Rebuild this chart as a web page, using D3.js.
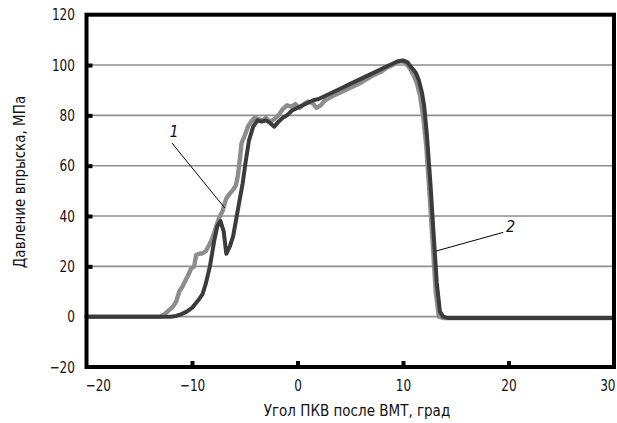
<!DOCTYPE html>
<html>
<head>
<meta charset="utf-8">
<script src="https://d3js.org/d3.v7.min.js"></script>
<title>Давление впрыска</title>
</head>
<style>
body {
  margin: 0;
  background: #fff;
}
svg {
  display: block;
}
text {
  font-family: "DejaVu Sans", sans-serif;
  font-stretch: condensed;
  fill: #111;
}
</style>
<body>
<svg id="svg" width="617" height="423"></svg>
</body>
<script>

// curve 1 (light grey)
let angle1 = [-20, -13, -12.6, -12.2, -11.8, -11.5, -11.2, -10.9, -10.55, -10.3, -10.1, -9.8, -9.6, -9.3, -9.0, -8.7,
  -8.3, -8.0, -7.7, -7.4, -7.1, -6.9, -6.75, -6.5, -6.1, -5.85, -5.65, -5.45, -5.3, -5.0, -4.7, -4.4, -4.05, -3.7,
  -3.3, -3.0, -2.6, -2.2, -1.8, -1.4, -1.0, -0.6, -0.2, 0.2, 0.6, 1.0, 1.4, 1.8, 2.2, 2.6, 3.0, 4, 5, 6, 7, 8, 8.5,
  9, 9.4, 9.8, 10.2, 10.6, 11.0, 11.3, 11.6, 11.9, 12.2, 12.5, 12.8, 13.1, 13.4, 13.8, 20, 30];
let pressure1 = [0, 0, 1, 2.5, 4, 6, 10, 12, 15, 17, 19, 20, 24.5, 25, 25.2, 26,
  29, 32, 36, 39.5, 42, 45, 47, 48.5, 50.5, 52, 56, 63, 69, 72, 75.5, 77.5, 79, 78.5,
  78, 79, 77.5, 78.5, 80, 82.5, 84, 83.5, 84.5, 83, 84.5, 85.5, 85, 83, 84, 86, 87, 89, 91, 93, 95.5, 97.5, 99,
  100, 101, 101.5, 101, 99, 96, 93, 88, 80, 68, 50, 30, 10, 0, -0.5, -0.5, -0.5];

// curve 2 (dark grey)
let angle2 = [-20, -12, -11.5, -11, -10.5, -10, -9.5, -9, -8.7, -8.3, -7.9, -7.6, -7.3, -7.0, -6.75, -6.4, -6.1,
  -5.8, -5.5, -5.2, -4.9, -4.6, -4.2, -3.8, -3.4, -3.0, -2.6, -2.2, -1.8, -1.4, -1.0, -0.5, 0, 0.5, 1, 1.5, 2, 3,
  4, 5, 6, 7, 8, 8.5, 9, 9.5, 10.0, 10.4, 10.8, 11.2, 11.5, 11.8, 12.0, 12.25, 12.6, 12.9, 13.2, 13.5, 13.8, 14.2, 20, 30];
let pressure2 = [0, 0, 0.3, 1, 2, 3.5, 6, 9, 13, 20, 30, 36, 38, 34, 25, 28, 32,
  39, 46, 53, 62, 70, 75.5, 78, 77.5, 78, 77, 75.5, 77.5, 79, 80, 82, 83, 84, 85, 86, 86.5, 88.5,
  90.5, 92.5, 94.5, 96.5, 98.5, 99.5, 100.5, 101.5, 101.8, 101.2, 99, 97, 94, 89, 84, 73, 53, 33, 13.5, 2, 0, -0.5, -0.5, -0.5];

let xTicks = [-20, -10, 0, 10, 20, 30];
let yTicks = [-20, 0, 20, 40, 60, 80, 100, 120];
let gridValues = [0, 20, 40, 60, 80, 100];

// labels "1" and "2" with leader lines, in data units
let labelNames = ["1", "2"];
let labelPos = [[-11.7, 71.5], [20.2, 33.5]];
let leaderFrom = [[-11.9, 69], [19.5, 33.5]];
let leaderTo = [[-6.9, 43.2], [13.15, 26.1]];

let narrow = 0.84; // squeeze tick labels to look like a condensed face

let svg = d3.select("svg");

let x = d3.scaleLinear().domain([-20, 30]).range([86.5, 614]);
let y = d3.scaleLinear().domain([-20, 120]).range([367, 14.7]);

// grid
svg.selectAll(".grid")
  .data(gridValues)
  .enter().append("line")
  .attr("class", "grid")
  .attr("x1", x(-20))
  .attr("x2", x(30))
  .attr("y1", function(d){ return y(d);})
  .attr("y2", function(d){ return y(d);})
  .attr("stroke", "#8e8e8e")
  .attr("stroke-width", 1.6);

// curves
let line = d3.line()
  .x(function(d){ return x(d[0]);})
  .y(function(d){ return y(d[1]);})
  .curve(d3.curveLinear);

let series = [
  {pts: d3.zip(angle1, pressure1), color: "#8d8d8d", width: 4.4},
  {pts: d3.zip(angle2, pressure2), color: "#3b3b3b", width: 4}
];

svg.selectAll(".curve")
  .data(series)
  .enter().append("path")
  .attr("class", "curve")
  .attr("d", function(d){ return line(d.pts);})
  .attr("fill", "none")
  .attr("stroke", function(d){ return d.color;})
  .attr("stroke-width", function(d){ return d.width;})
  .attr("stroke-linejoin", "round")
  .attr("stroke-linecap", "round");

// axes: ticks inside, labels outside
let fmt = function(d){ return d < 0 ? "\u2212" + Math.abs(d) : d;};

let gy = svg.append("g")
  .attr("transform", "translate(" + x(-20) + ",0)")
  .call(d3.axisLeft(y).tickValues(yTicks).tickSize(-6).tickPadding(12).tickFormat(fmt));

let gx = svg.append("g")
  .attr("transform", "translate(0," + y(-20) + ")")
  .call(d3.axisBottom(x).tickValues(xTicks).tickSize(-6).tickPadding(13).tickFormat(fmt));

[gx, gy].forEach(function(g) {
  g.select(".domain").remove();
  g.selectAll(".tick line").attr("stroke", "#000").attr("stroke-width", 4);
  g.selectAll(".tick text").attr("font-size", 16).attr("fill", "#111")
    .attr("transform", "scale(" + narrow + ",1)");
});
gy.selectAll(".tick text").attr("x", -11.5 / narrow);
// no tick marks at the frame corners or on the zero line
gy.selectAll(".tick line").filter(function(d){ return d == -20 || d == 120 || d == 0;}).remove();
gx.selectAll(".tick line").filter(function(d){ return d == -20 || d == 30;}).remove();
// end labels kept inside the frame width
gx.selectAll(".tick text").filter(function(d){ return d == -20;}).attr("text-anchor", "start").attr("x", -1.5 / narrow);
gx.selectAll(".tick text").filter(function(d){ return d == 30;}).attr("text-anchor", "end").attr("x", 1 / narrow);

// frame
svg.append("rect")
  .attr("x", x(-20))
  .attr("y", y(120))
  .attr("width", x(30) - x(-20))
  .attr("height", y(-20) - y(120))
  .attr("fill", "none")
  .attr("stroke", "#000")
  .attr("stroke-width", 4);

// axis titles
svg.append("text")
  .attr("x", 357)
  .attr("y", 416)
  .attr("text-anchor", "middle")
  .attr("font-size", 15)
  .text("Угол ПКВ после ВМТ, град");

svg.append("text")
  .attr("transform", "translate(25,182) rotate(-90)")
  .attr("text-anchor", "middle")
  .attr("font-size", 15)
  .text("Давление впрыска, МПа");

// curve labels
for (let i = 0; i < labelNames.length; i++) {
  svg.append("line")
    .attr("x1", x(leaderFrom[i][0]))
    .attr("y1", y(leaderFrom[i][1]))
    .attr("x2", x(leaderTo[i][0]))
    .attr("y2", y(leaderTo[i][1]))
    .attr("stroke", "#000")
    .attr("stroke-width", 1);
  svg.append("text")
    .attr("x", x(labelPos[i][0]))
    .attr("y", y(labelPos[i][1]))
    .attr("text-anchor", "middle")
    .attr("font-size", 16)
    .attr("font-style", "italic")
    .text(labelNames[i]);
}

</script>
</html>
